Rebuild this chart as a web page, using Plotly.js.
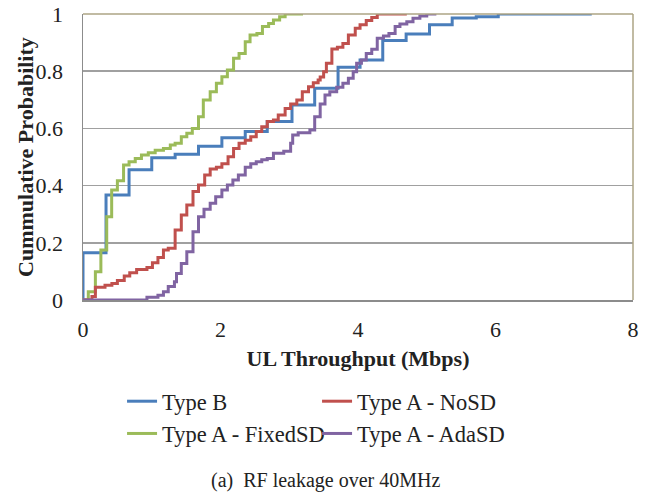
<!DOCTYPE html>
<html>
<head>
<meta charset="utf-8">
<script src="https://cdn.plot.ly/plotly-3.0.1.min.js"></script>
<style>html,body{margin:0;padding:0;background:#fff;}#chart{width:654px;height:493px;}</style>
</head>
<body>
<div id="chart"></div>
<script>
// Type B
var typeB_x = [0, 0, 0.335, 0.67, 1.0, 1.34, 1.68, 2.02, 2.36, 2.68, 3.04, 3.37, 3.71, 4.03, 4.36, 4.70, 5.04, 5.37, 5.72, 6.04, 7.40];
var typeB_y = [0, 0.165, 0.367, 0.455, 0.497, 0.51, 0.538, 0.567, 0.589, 0.624, 0.682, 0.740, 0.814, 0.839, 0.907, 0.930, 0.962, 0.986, 0.99, 1.0, 1.0];
// Type A - NoSD
var noSD_x = [0, 0.13, 0.18, 0.32, 0.42, 0.50, 0.60, 0.68, 0.78, 0.93, 1.01, 1.09, 1.17, 1.24, 1.34, 1.43, 1.51, 1.60, 1.68, 1.77, 1.85, 1.94, 2.02, 2.11, 2.19, 2.27, 2.36, 2.44, 2.52, 2.60, 2.68, 2.77, 2.84, 2.94, 3.02, 3.11, 3.19, 3.28, 3.35, 3.42, 3.45, 3.50, 3.54, 3.62, 3.70, 3.78, 3.86, 3.96, 4.03, 4.12, 4.20, 4.28, 4.71];
var noSD_y = [0, 0.012, 0.045, 0.052, 0.058, 0.068, 0.084, 0.095, 0.107, 0.114, 0.130, 0.149, 0.175, 0.181, 0.245, 0.297, 0.332, 0.379, 0.402, 0.437, 0.458, 0.464, 0.476, 0.501, 0.530, 0.548, 0.559, 0.571, 0.589, 0.606, 0.624, 0.629, 0.647, 0.670, 0.685, 0.699, 0.728, 0.746, 0.760, 0.769, 0.78, 0.798, 0.828, 0.878, 0.884, 0.897, 0.927, 0.950, 0.962, 0.977, 0.988, 1.0, 1.0];
// Type A - FixedSD
var fixedSD_x = [0, 0.077, 0.18, 0.26, 0.345, 0.417, 0.50, 0.59, 0.67, 0.76, 0.85, 0.95, 1.05, 1.17, 1.27, 1.34, 1.43, 1.51, 1.59, 1.68, 1.75, 1.85, 1.94, 2.02, 2.10, 2.19, 2.27, 2.36, 2.43, 2.53, 2.61, 2.70, 2.77, 2.86, 2.94, 3.20];
var fixedSD_y = [0, 0.029, 0.099, 0.175, 0.291, 0.385, 0.417, 0.472, 0.483, 0.495, 0.507, 0.515, 0.524, 0.53, 0.542, 0.548, 0.571, 0.583, 0.600, 0.641, 0.699, 0.728, 0.758, 0.781, 0.804, 0.845, 0.862, 0.903, 0.927, 0.932, 0.956, 0.967, 0.979, 0.99, 1.0, 1.0];
// Type A - AdaSD
var adaSD_x = [0, 0.93, 1.09, 1.17, 1.24, 1.33, 1.36, 1.43, 1.51, 1.60, 1.68, 1.76, 1.85, 1.93, 2.02, 2.10, 2.18, 2.26, 2.36, 2.44, 2.52, 2.60, 2.68, 2.77, 2.92, 3.02, 3.05, 3.13, 3.30, 3.37, 3.45, 3.52, 3.59, 3.69, 3.78, 3.86, 3.93, 3.98, 4.05, 4.12, 4.20, 4.28, 4.37, 4.45, 4.54, 4.61, 4.71, 4.80, 4.90, 5.00, 5.14];
var adaSD_y = [0, 0.01, 0.017, 0.029, 0.047, 0.064, 0.093, 0.128, 0.169, 0.239, 0.291, 0.317, 0.338, 0.361, 0.385, 0.402, 0.42, 0.437, 0.464, 0.476, 0.483, 0.49, 0.495, 0.513, 0.52, 0.548, 0.577, 0.585, 0.594, 0.641, 0.685, 0.717, 0.728, 0.744, 0.758, 0.775, 0.798, 0.828, 0.839, 0.862, 0.877, 0.915, 0.923, 0.932, 0.956, 0.965, 0.973, 0.985, 0.993, 1.0, 1.0];

var seriesNames = ['Type B', 'Type A - NoSD', 'Type A - FixedSD', 'Type A - AdaSD'];
var seriesColors = ['#4a7ebb', '#c0504d', '#9bbb59', '#8064a2'];
var xTickVals = [0, 2, 4, 6, 8];
var yTickVals = [0, 0.2, 0.4, 0.6, 0.8, 1];
var yTickText = ['0', '0.2', '0.4', '0.6', '0.8', '1'];

var xs = [typeB_x, noSD_x, fixedSD_x, adaSD_x];
var ys = [typeB_y, noSD_y, fixedSD_y, adaSD_y];
var order = [0, 1, 2, 3];
var drawOrder = [0, 2, 1, 3];

var font = "Liberation Serif";
var traces = drawOrder.map(function (i) {
  return {
    x: xs[i], y: ys[i], name: seriesNames[i], type: 'scatter', mode: 'lines',
    line: {shape: 'hv', color: seriesColors[i], width: 3},
    legendrank: order[i] + 1
  };
});

var layout = {
  width: 654, height: 493,
  margin: {l: 83, r: 21, t: 14, b: 193},
  paper_bgcolor: '#fff', plot_bgcolor: '#fff',
  font: {family: font, size: 22, color: '#222'},
  showlegend: true,
  xaxis: {
    range: [0, 8], tickvals: xTickVals, ticktext: xTickVals.map(String),
    showgrid: false, zeroline: false, showline: true, linecolor: '#8c8c8c', linewidth: 1.5,
    ticks: '', ticklabelstandoff: 9,
    tickfont: {family: font, size: 22, color: '#222'},
    title: {text: '<b>UL Throughput (Mbps)</b>', font: {family: font, size: 22, color: '#222'}, standoff: 9}
  },
  yaxis: {
    range: [0, 1], tickvals: yTickVals, ticktext: yTickText,
    showgrid: true, gridcolor: '#a0a0a0', gridwidth: 1.5, zeroline: false,
    showline: true, linecolor: '#8c8c8c', linewidth: 1.5,
    ticks: '', ticklabelstandoff: 14,
    tickfont: {family: font, size: 22, color: '#222'}
  },
  legend: {
    orientation: 'h', x: 0.071, xanchor: 'left', y: -0.28, yanchor: 'top',
    entrywidth: 150, entrywidthmode: 'pixels', traceorder: 'normal', tracegroupgap: 0,
    font: {family: font, size: 22.5, color: '#222'}, bgcolor: 'rgba(0,0,0,0)'
  },
  shapes: [
    {type: 'line', xref: 'paper', yref: 'paper', x0: 0, x1: 1, y0: 1, y1: 1, line: {color: '#aca484', width: 1.5}},
    {type: 'line', xref: 'paper', yref: 'paper', x0: 1, x1: 1, y0: 0, y1: 1, line: {color: '#aca484', width: 1.5}}
  ],
  annotations: [
    {text: '<b>Cummulative Probability</b>', xref: 'paper', yref: 'paper', x: -0.1055, y: 0.5, xanchor: 'center', yanchor: 'middle', textangle: -90, showarrow: false, font: {family: font, size: 22, color: '#222'}},
    {text: '(a)  RF leakage over 40MHz', xref: 'paper', yref: 'paper', x: 0.44, y: -0.632, xanchor: 'center', yanchor: 'middle', showarrow: false, font: {family: font, size: 20, color: '#222'}}
  ]
};

Plotly.newPlot('chart', traces, layout, {displayModeBar: false, staticPlot: true});
</script>
</body>
</html>
